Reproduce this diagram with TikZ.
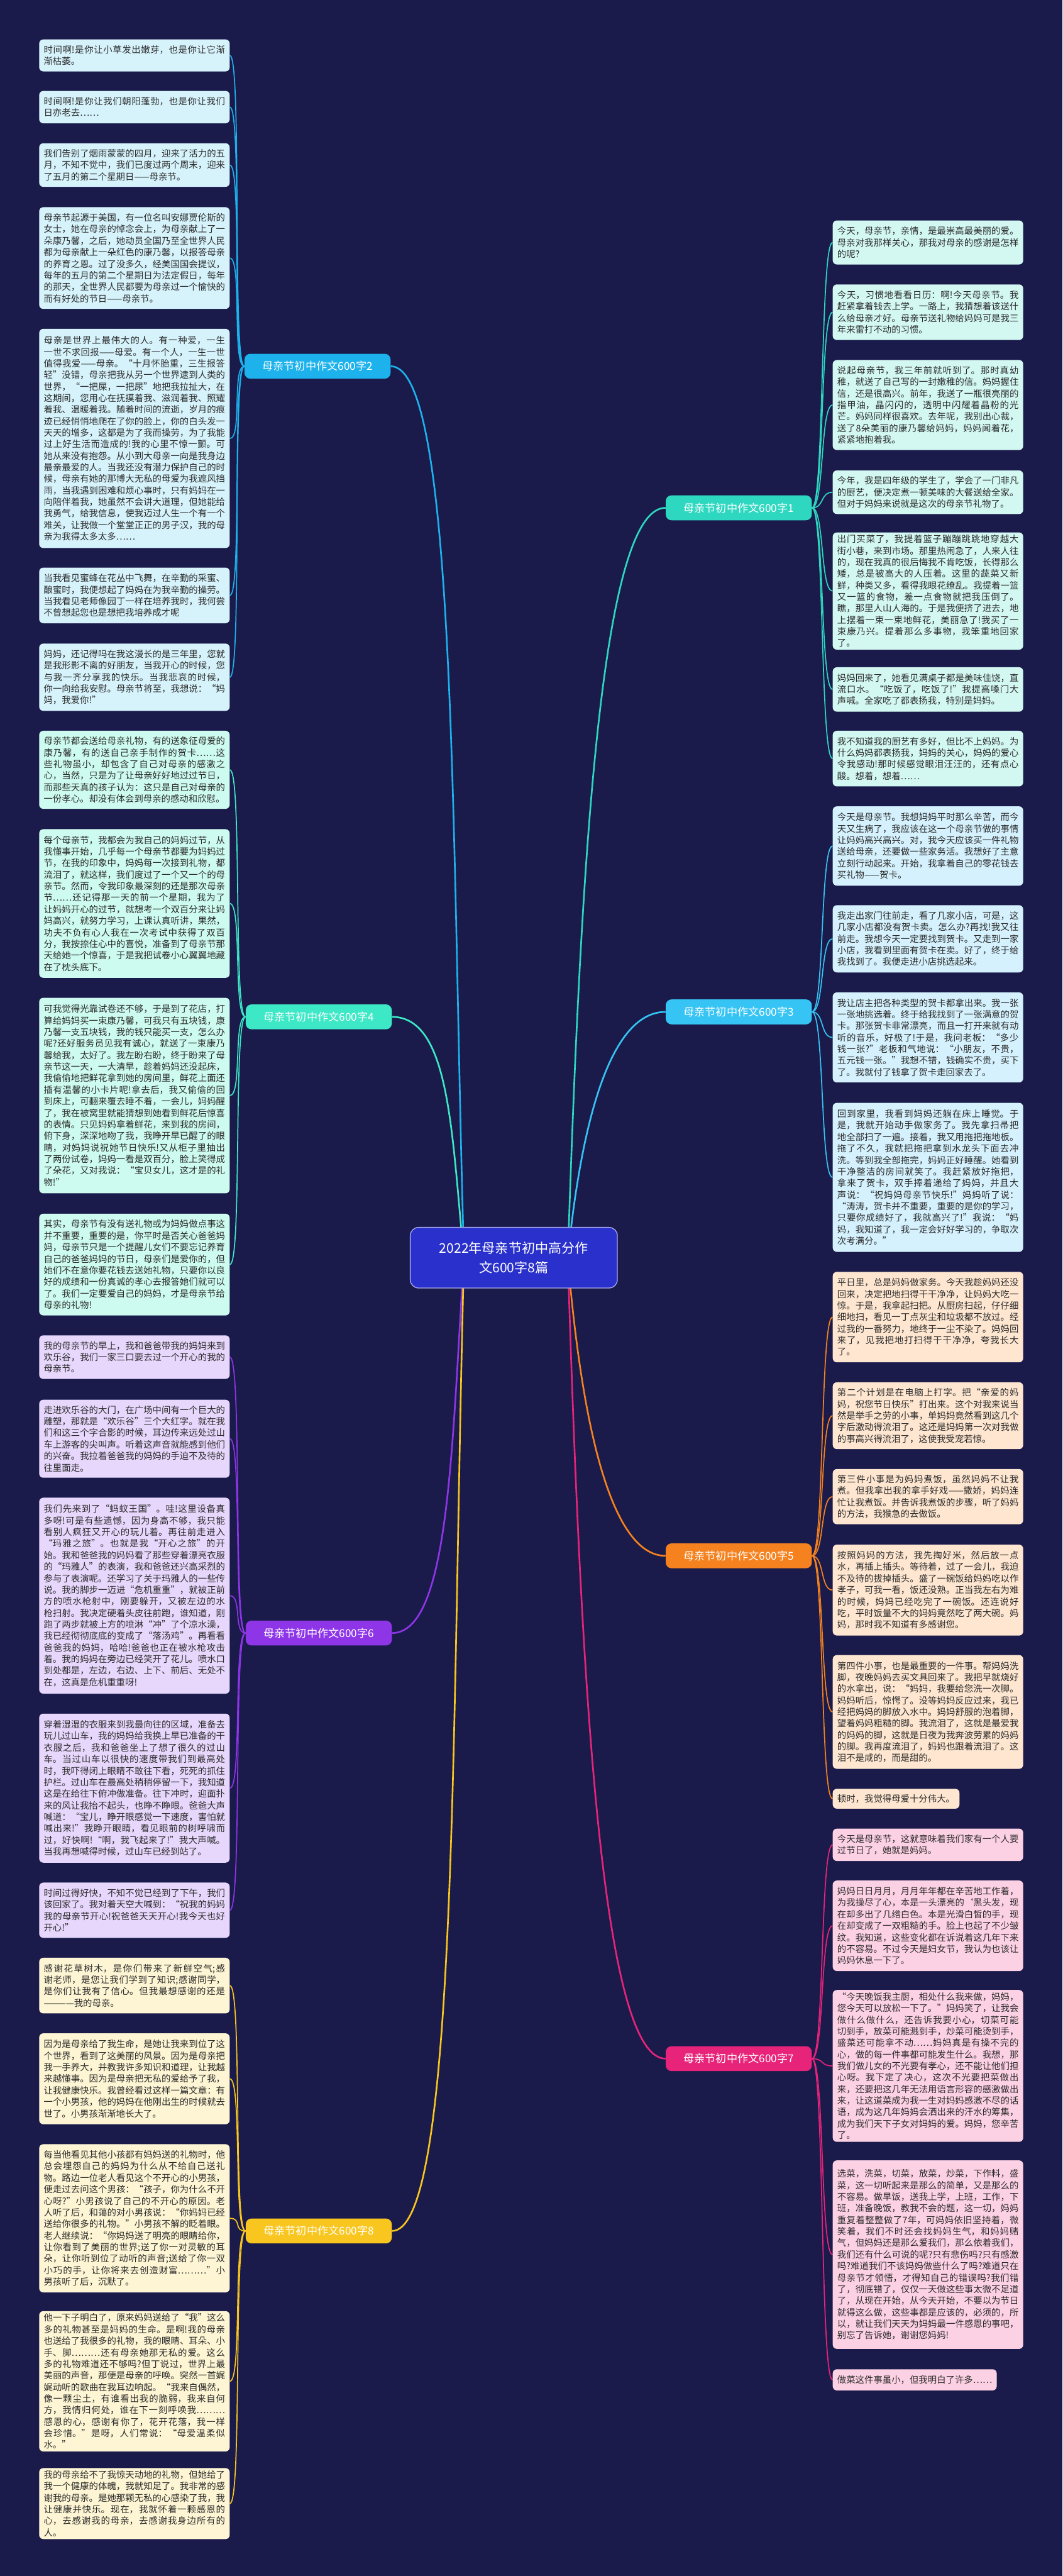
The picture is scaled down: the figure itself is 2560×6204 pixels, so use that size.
\documentclass[tikz,border=0pt]{standalone}
\usepackage{fontspec}
\setmainfont{Noto Sans CJK SC}
\usetikzlibrary{calc}
\XeTeXlinebreaklocale "zh"
\XeTeXlinebreakskip=0pt plus 2pt
\tolerance=9999
\emergencystretch=2em
\definecolor{bgc}{HTML}{1A1B4B}
\definecolor{txtc}{HTML}{2B2B2B}
\definecolor{ca}{HTML}{1DB2EC}\definecolor{fa}{HTML}{D6F3FC}
\definecolor{cb}{HTML}{2ED8C0}\definecolor{fb}{HTML}{D3F8F2}
\definecolor{cc}{HTML}{3DE8C6}\definecolor{fc}{HTML}{CDFBEF}
\definecolor{cd}{HTML}{36C4F4}\definecolor{fd}{HTML}{D4F1FD}
\definecolor{ce}{HTML}{F5821F}\definecolor{fe}{HTML}{FEE6D0}
\definecolor{cf}{HTML}{8E35E8}\definecolor{ff}{HTML}{E7D7FC}
\definecolor{cg}{HTML}{E8247A}\definecolor{fg}{HTML}{FDD1E4}
\definecolor{ch}{HTML}{F8C61E}\definecolor{fh}{HTML}{FDF5D3}
\definecolor{centc}{HTML}{2A30CC}
\pgfdeclarelayer{bg}
\pgfsetlayers{bg,main}
\tikzset{
  leafbase/.style={rounded corners=5pt, inner xsep=5.5pt, inner ysep=3pt,
    font=\fontsize{10.9pt}{13.9pt}\selectfont, text=txtc},
  leafw/.style={leafbase, text width=218.5pt, align=justify},
  lleaf/.style={leafw, anchor=west},
  rleaf/.style={leafw, anchor=west},
  rshort/.style={leafbase, anchor=west},
  branch/.style={rounded corners=7pt, minimum width=176pt, minimum height=30pt,
    font=\fontsize{13pt}{15pt}\selectfont, text=white, inner sep=2pt},
  centre/.style={rounded corners=10pt, minimum width=249.5pt, minimum height=73pt,
    fill=centc, draw=white!60!centc, line width=1pt, text=white, align=center,
    font=\fontsize{16pt}{24pt}\selectfont},
  mainlink/.style={line width=2pt},
  leaflink/.style={line width=1.3pt},
}
\begin{document}
\begin{tikzpicture}[x=0.5pt,y=-0.5pt]
\useasboundingbox (0,0) rectangle (2560,6204);

% centre
\node[centre] (c) at (1238,3029) {2022年母亲节初中高分作\\文600字8篇};

% branch nodes
\node[branch, fill=ca] (b2) at (765,882) {母亲节初中作文600字2};
\node[branch, fill=cc] (b4) at (768,2449) {母亲节初中作文600字4};
\node[branch, fill=cf] (b6) at (768,3933) {母亲节初中作文600字6};
\node[branch, fill=ch] (b8) at (768,5373) {母亲节初中作文600字8};
\node[branch, fill=cb] (b1) at (1780,1223) {母亲节初中作文600字1};
\node[branch, fill=cd] (b3) at (1780,2437) {母亲节初中作文600字3};
\node[branch, fill=ce] (b5) at (1780,3747) {母亲节初中作文600字5};
\node[branch, fill=cg] (b7) at (1780,4958) {母亲节初中作文600字7};

% left leaves, branch 2
\node[lleaf, fill=fa, minimum height=38.5pt] (l1) at (94,133.5) {时间啊!是你让小草发出嫩芽，也是你让它渐渐枯萎。};
\node[lleaf, fill=fa, minimum height=39pt] (l2) at (94,258) {时间啊!是你让我们朝阳蓬勃，也是你让我们日亦老去……};
\node[lleaf, fill=fa, minimum height=52.5pt] (l3) at (94,397.5) {我们告别了烟雨蒙蒙的四月，迎来了活力的五月，不知不觉中，我们已度过两个周末，迎来了五月的第二个星期日——母亲节。};
\node[lleaf, fill=fa, minimum height=122.5pt] (l4) at (94,621.5) {母亲节起源于美国，有一位名叫安娜贾伦斯的女士，她在母亲的悼念会上，为母亲献上了一朵康乃馨，之后，她动员全国乃至全世界人民都为母亲献上一朵红色的康乃馨，以报答母亲的养育之恩。过了没多久，经美国国会提议，每年的五月的第二个星期日为法定假日，每年的那天，全世界人民都要为母亲过一个愉快的而有好处的节日——母亲节。};
\node[lleaf, fill=fa, minimum height=264pt] (l5) at (94,1056) {母亲是世界上最伟大的人。有一种爱，一生一世不求回报——母爱。有一个人，一生一世值得我爱——母亲。“十月怀胎重，三生报答轻”没错，母亲把我从另一个世界逮到人类的世界，“一把屎，一把尿”地把我拉扯大，在这期间，您用心在抚摸着我、滋润着我、照耀着我、温暖着我。随着时间的流逝，岁月的痕迹已经悄悄地爬在了你的脸上，你的白头发一天天的增多，这都是为了我而操劳，为了我能过上好生活而造成的!我的心里不惊一颤。可她从来没有抱怨。从小到大母亲一向是我身边最亲最爱的人。当我还没有潜力保护自己的时候，母亲有她的那博大无私的母爱为我遮风挡雨，当我遇到困难和烦心事时，只有妈妈在一向陪伴着我，她虽然不会讲大道理，但她能给我勇气，给我信息，使我迈过人生一个有一个难关，让我做一个堂堂正正的男子汉，我的母亲为我得太多太多……};
\node[lleaf, fill=fa, minimum height=67pt] (l6) at (94,1434) {当我看见蜜蜂在花丛中飞舞，在辛勤的采蜜、酿蜜时，我便想起了妈妈在为我辛勤的操劳。当我看见老师像园丁一样在培养我时，我何尝不曾想起您也是想把我培养成才呢};
\node[lleaf, fill=fa, minimum height=81pt] (l7) at (94,1631) {妈妈，还记得吗在我这漫长的是三年里，您就是我形影不离的好朋友，当我开心的时候，您与我一齐分享我的快乐。当我悲哀的时候，你一向给我安慰。母亲节将至，我想说：“妈妈，我爱你!”};

% branch 4
\node[lleaf, fill=fc, minimum height=94pt] (l8) at (94,1854) {母亲节都会送给母亲礼物，有的送象征母爱的康乃馨，有的送自己亲手制作的贺卡……这些礼物虽小，却包含了自己对母亲的感激之心，当然，只是为了让母亲好好地过过节日，而那些天真的孩子认为：这只是自己对母亲的一份孝心。却没有体会到母亲的感动和欣慰。};
\node[lleaf, fill=fc, minimum height=179pt] (l9) at (94,2176) {每个母亲节，我都会为我自己的妈妈过节，从我懂事开始，几乎每一个母亲节都要为妈妈过节，在我的印象中，妈妈每一次接到礼物，都流泪了，就这样，我们度过了一个又一个的母亲节。然而，令我印象最深刻的还是那次母亲节……还记得那一天的前一个星期，我为了让妈妈开心的过节，就想考一个双百分来让妈妈高兴，就努力学习，上课认真听讲，果然，功夫不负有心人我在一次考试中获得了双百分，我按捺住心中的喜悦，准备到了母亲节那天给她一个惊喜，于是我把试卷小心翼翼地藏在了枕头底下。};
\node[lleaf, fill=fc, minimum height=235.5pt] (l10) at (94,2638.5) {可我觉得光靠试卷还不够，于是到了花店，打算给妈妈买一束康乃馨，可我只有五块钱，康乃馨一支五块钱，我的钱只能买一支，怎么办呢?还好服务员见我有诚心，就送了一束康乃馨给我，太好了。我左盼右盼，终于盼来了母亲节这一天，一大清早，趁着妈妈还没起床，我偷偷地把鲜花拿到她的房间里，鲜花上面还插有温馨的小卡片呢!拿去后，我又偷偷的回到床上，可翻来覆去睡不着，一会儿，妈妈醒了，我在被窝里就能猜想到她看到鲜花后惊喜的表情。只见妈妈拿着鲜花，来到我的房间，俯下身，深深地吻了我，我睁开早已醒了的眼睛，对妈妈说祝她节日快乐!又从柜子里抽出了两份试卷，妈妈一看是双百分，脸上笑得成了朵花，又对我说：“宝贝女儿，这才是的礼物!”};
\node[lleaf, fill=fc, minimum height=122.5pt] (l11) at (94,3045.5) {其实，母亲节有没有送礼物或为妈妈做点事这并不重要，重要的是，你平时是否关心爸爸妈妈，母亲节只是一个提醒儿女们不要忘记养育自己的爸爸妈妈的节日，母亲们是爱你的，但她们不在意你要花钱去送她礼物，只要你以良好的成绩和一份真诚的孝心去报答她们就可以了。我们一定要爱自己的妈妈，才是母亲节给母亲的礼物!};

% branch 6
\node[lleaf, fill=ff, minimum height=52.5pt] (l12) at (94,3268.5) {我的母亲节的早上，我和爸爸带我的妈妈来到欢乐谷，我们一家三口要去过一个开心的我的母亲节。};
\node[lleaf, fill=ff, minimum height=94pt] (l13) at (94,3465) {走进欢乐谷的大门，在广场中间有一个巨大的雕塑，那就是“欢乐谷”三个大红字。就在我们和这三个字合影的时候，耳边传来远处过山车上游客的尖叫声。听着这声音就能感到他们的兴奋。我拉着爸爸我的妈妈的手迫不及待的往里面走。};
\node[lleaf, fill=ff, minimum height=236pt] (l14) at (94,3843) {我们先来到了“蚂蚁王国”。哇!这里设备真多呀!可是有些遗憾，因为身高不够，我只能看别人疯狂又开心的玩儿着。再往前走进入“玛雅之旅”。也就是我“开心之旅”的开始。我和爸爸我的妈妈看了那些穿着漂亮衣服的“玛雅人”的表演，我和爸爸还兴高采烈的参与了表演呢。还学习了关于玛雅人的一些传说。我的脚步一迈进“危机重重”，就被正前方的喷水枪射中，刚要躲开，又被左边的水枪扫射。我决定硬着头皮往前跑，谁知道，刚跑了两步就被上方的喷淋“冲”了个凉水澡，我已经彻彻底底的变成了“落汤鸡”。再看看爸爸我的妈妈，哈哈!爸爸也正在被水枪攻击着。我的妈妈在旁边已经笑开了花儿。喷水口到处都是，左边，右边、上下、前后、无处不在，这真是危机重重呀!};
\node[lleaf, fill=ff, minimum height=179.5pt] (l15) at (94,4306.5) {穿着湿湿的衣服来到我最向往的区域，准备去玩儿过山车，我的妈妈给我换上早已准备的干衣服之后，我和爸爸坐上了想了很久的过山车。当过山车以很快的速度带我们到最高处时，我吓得闭上眼睛不敢往下看，死死的抓住护栏。过山车在最高处稍稍停留一下，我知道这是在给往下俯冲做准备。往下冲时，迎面扑来的风让我抬不起头，也睁不睁眼。爸爸大声喊道：“宝儿，睁开眼感觉一下速度，害怕就喊出来!”我睁开眼睛，看见眼前的树呼啸而过，好快啊!“啊，我飞起来了!”我大声喊。当我再想喊得时候，过山车已经到站了。};
\node[lleaf, fill=ff, minimum height=66.5pt] (l16) at (94,4600.5) {时间过得好快，不知不觉已经到了下午，我们该回家了。我对着天空大喊到：“祝我的妈妈我的母亲节开心!祝爸爸天天开心!我今天也好开心!”};

% branch 8
\node[lleaf, fill=fh, minimum height=67pt] (l17) at (94,4782) {感谢花草树木，是你们带来了新鲜空气;感谢老师，是您让我们学到了知识;感谢同学，是你们让我有了信心。但我最想感谢的还是————我的母亲。};
\node[lleaf, fill=fh, minimum height=109.5pt] (l18) at (94,5006.5) {因为是母亲给了我生命，是她让我来到位了这个世界，看到了这美丽的风景。因为是母亲把我一手养大，并教我许多知识和道理，让我越来越懂事。因为是母亲把无私的爱给予了我，让我健康快乐。我曾经看过这样一篇文章：有一个小男孩，他的妈妈在他刚出生的时候就去世了。小男孩渐渐地长大了。};
\node[lleaf, fill=fh, minimum height=178.5pt] (l19) at (94,5342.5) {每当他看见其他小孩都有妈妈送的礼物时，他总会埋怨自己的妈妈为什么从不给自己送礼物。路边一位老人看见这个不开心的小男孩，便走过去问这个男孩：“孩子，你为什么不开心呀?”小男孩说了自己的不开心的原因。老人听了后，和蔼的对小男孩说：“你妈妈已经送给你很多的礼物。”小男孩不解的眨着眼。老人继续说：“你妈妈送了明亮的眼睛给你，让你看到了美丽的世界;送了你一对灵敏的耳朵，让你听到位了动听的声音;送给了你一双小巧的手，让你将来去创造财富………”小男孩听了后，沉默了。};
\node[lleaf, fill=fh, minimum height=164pt] (l20) at (94,5735) {他一下子明白了，原来妈妈送给了“我”这么多的礼物甚至是妈妈的生命。是啊!我的母亲也送给了我很多的礼物，我的眼睛、耳朵、小手、脚………还有母亲她那无私的爱。这么多的礼物难道还不够吗?但丁说过，世界上最美丽的声音，那便是母亲的呼唤。突然一首娓娓动听的歌曲在我耳边响起。“我来自偶然，像一颗尘土，有谁看出我的脆弱，我来自何方，我情归何处，谁在下一刻呼唤我………感恩的心，感谢有你了，花开花落，我一样会珍惜。”是呀，人们常说：“母爱温柔似水。”};
\node[lleaf, fill=fh, minimum height=80.5pt] (l21) at (94,6029.5) {我的母亲给不了我惊天动地的礼物，但她给了我一个健康的体魄，我就知足了。我非常的感谢我的母亲。是她那颗无私的心感染了我，我让健康并快乐。现在，我就怀着一颗感恩的心，去感谢我的母亲，去感谢我身边所有的人。};

% right, branch 1
\node[rleaf, fill=fb, minimum height=53pt] (r1) at (2006,584) {今天，母亲节，亲情，是最崇高最美丽的爱。母亲对我那样关心，那我对母亲的感谢是怎样的呢?};
\node[rleaf, fill=fb, minimum height=67pt] (r2) at (2006,752) {今天，习惯地看看日历：啊!今天母亲节。我赶紧拿着钱去上学。一路上，我猜想着该送什么给母亲才好。母亲节送礼物给妈妈可是我三年来雷打不动的习惯。};
\node[rleaf, fill=fb, minimum height=108.5pt] (r3) at (2006,975.5) {说起母亲节，我三年前就听到了。那时真幼稚，就送了自己写的一封嫩稚的信。妈妈握住信，还是很高兴。前年，我送了一瓶很亮丽的指甲油，晶闪闪的，透明中闪耀着晶粉的光芒。妈妈同样很喜欢。去年呢，我别出心裁，送了8朵美丽的康乃馨给妈妈，妈妈闻着花，紧紧地抱着我。};
\node[rleaf, fill=fb, minimum height=52.5pt] (r4) at (2006,1185.5) {今年，我是四年级的学生了，学会了一门非凡的厨艺，便决定煮一顿美味的大餐送给全家。但对于妈妈来说就是这次的母亲节礼物了。};
\node[rleaf, fill=fb, minimum height=137.5pt] (r5) at (2006,1423.5) {出门买菜了，我提着篮子蹦蹦跳跳地穿越大街小巷，来到市场。那里热闹急了，人来人往的，现在我真的很后悔我不肯吃饭，长得那么矮，总是被高大的人压着。这里的蔬菜又新鲜，种类又多，看得我眼花缭乱。我提着一篮又一篮的食物，差一点食物就把我压倒了。瞧，那里人山人海的。于是我便挤了进去，地上摆着一束一束地鲜花，美丽急了!我买了一束康乃兴。提着那么多事物，我笨重地回家了。};
\node[rleaf, fill=fb, minimum height=53.5pt] (r6) at (2006,1660.5) {妈妈回来了，她看见满桌子都是美味佳饶，直流口水。“吃饭了，吃饭了!”我提高嗓门大声喊。全家吃了都表扬我，特别是妈妈。};
\node[rleaf, fill=fb, minimum height=67pt] (r7) at (2006,1827) {我不知道我的厨艺有多好，但比不上妈妈。为什么妈妈都表扬我，妈妈的关心，妈妈的爱心令我感动!那时候感觉眼泪汪汪的，还有点心酸。想着，想着……};

% branch 3
\node[rleaf, fill=fd, minimum height=95.5pt] (r8) at (2006,2037.5) {今天是母亲节。我想妈妈平时那么辛苦，而今天又生病了，我应该在这一个母亲节做的事情让妈妈高兴高兴。对，我今天应该买一件礼物送给母亲，还要做一些家务活。我想好了主意立刻行动起来。开始，我拿着自己的零花钱去买礼物——贺卡。};
\node[rleaf, fill=fd, minimum height=81pt] (r9) at (2006,2261) {我走出家门往前走，看了几家小店，可是，这几家小店都没有贺卡卖。怎么办?再找!我又往前走。我想今天一定要找到贺卡。又走到一家小店，我看到里面有贺卡在卖。好了，终于给我找到了。我便走进小店挑选起来。};
\node[rleaf, fill=fd, minimum height=108.5pt] (r10) at (2006,2498.5) {我让店主把各种类型的贺卡都拿出来。我一张一张地挑选着。终于给我找到了一张满意的贺卡。那张贺卡非常漂亮，而且一打开来就有动听的音乐，好极了!于是，我问老板：“多少钱一张?”老板和气地说：“小朋友，不贵，五元钱一张。”我想不错，钱确实不贵，买下了。我就付了钱拿了贺卡走回家去了。};
\node[rleaf, fill=fd, minimum height=179.5pt] (r11) at (2006,2835.5) {回到家里，我看到妈妈还躺在床上睡觉。于是，我就开始动手做家务了。我先拿扫帚把地全部扫了一遍。接着，我又用拖把拖地板。拖了不久，我就把拖把拿到水龙头下面去冲洗。等到我全部拖完，妈妈正好睡醒。她看到干净整洁的房间就笑了。我赶紧放好拖把，拿来了贺卡，双手捧着递给了妈妈，并且大声说：“祝妈妈母亲节快乐!”妈妈听了说：“涛涛，贺卡并不重要，重要的是你的学习，只要你成绩好了，我就高兴了!”我说：“妈妈，我知道了，我一定会好好学习的，争取次次考满分。”};

% branch 5
\node[rleaf, fill=fe, minimum height=109pt] (r12) at (2006,3172) {平日里，总是妈妈做家务。今天我趁妈妈还没回来，决定把地扫得干干净净，让妈妈大吃一惊。于是，我拿起扫把。从厨房扫起，仔仔细细地扫，看见一丁点灰尘和垃圾都不放过。经过我的一番努力，地终于一尘不染了。妈妈回来了，见我把地打扫得干干净净，夸我长大了。};
\node[rleaf, fill=fe, minimum height=80.5pt] (r13) at (2006,3409.5) {第二个计划是在电脑上打字。把“亲爱的妈妈，祝您节日快乐”打出来。这个对我来说当然是举手之劳的小事，单妈妈竟然看到这几个字后激动得流泪了。这还是妈妈第一次对我做的事高兴得流泪了，这使我受宠若惊。};
\node[rleaf, fill=fe, minimum height=66.5pt] (r14) at (2006,3604.5) {第三件小事是为妈妈煮饭，虽然妈妈不让我煮。但我拿出我的拿手好戏——撒娇，妈妈连忙让我煮饭。并告诉我煮饭的步骤，听了妈妈的方法，我猴急的去做饭。};
\node[rleaf, fill=fe, minimum height=109.5pt] (r15) at (2006,3829.5) {按照妈妈的方法，我先掏好米，然后放一点水，再插上插头。等待着，过了一会儿，我迫不及待的拔掉插头。盛了一碗饭给妈妈吃以作孝子，可我一看，饭还没熟。正当我左右为难的时候，妈妈已经吃完了一碗饭。还连说好吃，平时饭量不大的妈妈竟然吃了两大碗。妈妈，那时我不知道有多感谢您。};
\node[rleaf, fill=fe, minimum height=137pt] (r16) at (2006,4123) {第四件小事，也是最重要的一件事。帮妈妈洗脚，夜晚妈妈去买文具回来了。我把早就烧好的水拿出，说：“妈妈，我要给您洗一次脚。妈妈听后，惊愕了。没等妈妈反应过来，我已经把妈妈的脚放入水中。妈妈舒服的泡着脚，望着妈妈粗糙的脚。我流泪了，这就是最爱我的妈妈的脚，这就是日夜为我奔波劳累的妈妈的脚。我再度流泪了，妈妈也跟着流泪了。这泪不是咸的，而是甜的。};
\node[rshort, fill=fe, minimum height=24pt] (r17) at (2006,4332) {顿时，我觉得母爱十分伟大。};

% branch 7
\node[rleaf, fill=fg, minimum height=39pt] (r18) at (2006,4443) {今天是母亲节，这就意味着我们家有一个人要过节日了，她就是妈妈。};
\node[rleaf, fill=fg, minimum height=109pt] (r19) at (2006,4638) {妈妈日日月月，月月年年都在辛苦地工作着，为我操尽了心，本是一头漂亮的\symbol{96}黑头发，现在却多出了几绺白色。本是光滑白皙的手，现在却变成了一双粗糙的手。脸上也起了不少皱纹。我知道，这些变化都在诉说着这几年下来的不容易。不过今天是妇女节，我认为也该让妈妈休息一下了。};
\node[rleaf, fill=fg, minimum height=178.5pt] (r20) at (2006,4975.5) {“今天晚饭我主厨，相处什么我来做，妈妈，您今天可以放松一下了。”妈妈笑了，让我会做什么做什么，还告诉我要小心，切菜可能切到手，放菜可能溅到手，炒菜可能烫到手，盛菜还可能拿不动……妈妈真是有操不完的心，做的每一件事都可能发生什么。我想，那我们做儿女的不光要有孝心，还不能让他们担心呀。我下定了决心，这次不光要把菜做出来，还要把这几年无法用语言形容的感激做出来，让这道菜成为我一生对妈妈感激不尽的话语，成为这几年妈妈会洒出来的汗水的筹集，成为我们天下子女对妈妈的爱。妈妈，您辛苦了。};
\node[rleaf, fill=fg, minimum height=227pt] (r21) at (2006,5430) {选菜，洗菜，切菜，放菜，炒菜，下作料，盛菜，这一切听起来是那么的简单，又是那么的不容易。做早饭，送我上学，上班，工作，下班，准备晚饭，教我不会的题，这一切，妈妈重复着整整做了7年，可妈妈依旧坚持着，微笑着，我们不时还会找妈妈生气，和妈妈赌气，但妈妈还是那么爱我们，那么依着我们，我们还有什么可说的呢?只有悲伤吗?只有感激吗?难道我们不该妈妈做些什么了吗?难道只在母亲节才领悟，才得知自己的错误吗?我们错了，彻底错了，仅仅一天做这些事太微不足道了，从现在开始，从今天开始，不要以为节日就得这么做，这些事都是应该的，必须的，所以，就让我们天天为妈妈最一件感恩的事吧，别忘了告诉她，谢谢您妈妈!};
\node[rshort, fill=fg, minimum height=25.5pt] (r22) at (2006,5731.5) {做菜这件事虽小，但我明白了许多……};

\begin{pgfonlayer}{bg}
\fill[bgc] (0,0) rectangle (2560,6204);
% main links
\draw[mainlink, ca] ($(c.center)+(-120,0)$) .. controls +(-30,-1000) and +(160,0) .. (b2.east);
\draw[mainlink, cc] ($(c.center)+(-120,0)$) .. controls +(-30,-300) and +(140,0) .. (b4.east);
\draw[mainlink, cf] ($(c.center)+(-120,0)$) .. controls +(-30,450) and +(140,0) .. (b6.east);
\draw[mainlink, ch] ($(c.center)+(-120,0)$) .. controls +(-30,1100) and +(160,0) .. (b8.east);
\draw[mainlink, cb] ($(c.center)+(130,0)$) .. controls +(30,-900) and +(-160,0) .. (b1.west);
\draw[mainlink, cd] ($(c.center)+(130,0)$) .. controls +(30,-300) and +(-140,0) .. (b3.west);
\draw[mainlink, ce] ($(c.center)+(130,0)$) .. controls +(30,360) and +(-140,0) .. (b5.west);
\draw[mainlink, cg] ($(c.center)+(130,0)$) .. controls +(30,950) and +(-160,0) .. (b7.west);
% leaf links
\foreach \i in {1,...,7} \draw[leaflink, ca] (b2.west) .. controls +(-30,0) and +(30,0) .. (l\i.east);
\foreach \i in {8,...,11} \draw[leaflink, cc] (b4.west) .. controls +(-30,0) and +(30,0) .. (l\i.east);
\foreach \i in {12,...,16} \draw[leaflink, cf] (b6.west) .. controls +(-30,0) and +(30,0) .. (l\i.east);
\foreach \i in {17,...,21} \draw[leaflink, ch] (b8.west) .. controls +(-30,0) and +(30,0) .. (l\i.east);
\foreach \i in {1,...,7} \draw[leaflink, cb] (b1.east) .. controls +(30,0) and +(-30,0) .. (r\i.west);
\foreach \i in {8,...,11} \draw[leaflink, cd] (b3.east) .. controls +(30,0) and +(-30,0) .. (r\i.west);
\foreach \i in {12,...,17} \draw[leaflink, ce] (b5.east) .. controls +(30,0) and +(-30,0) .. (r\i.west);
\foreach \i in {18,...,22} \draw[leaflink, cg] (b7.east) .. controls +(30,0) and +(-30,0) .. (r\i.west);
\end{pgfonlayer}
\end{tikzpicture}
\end{document}
